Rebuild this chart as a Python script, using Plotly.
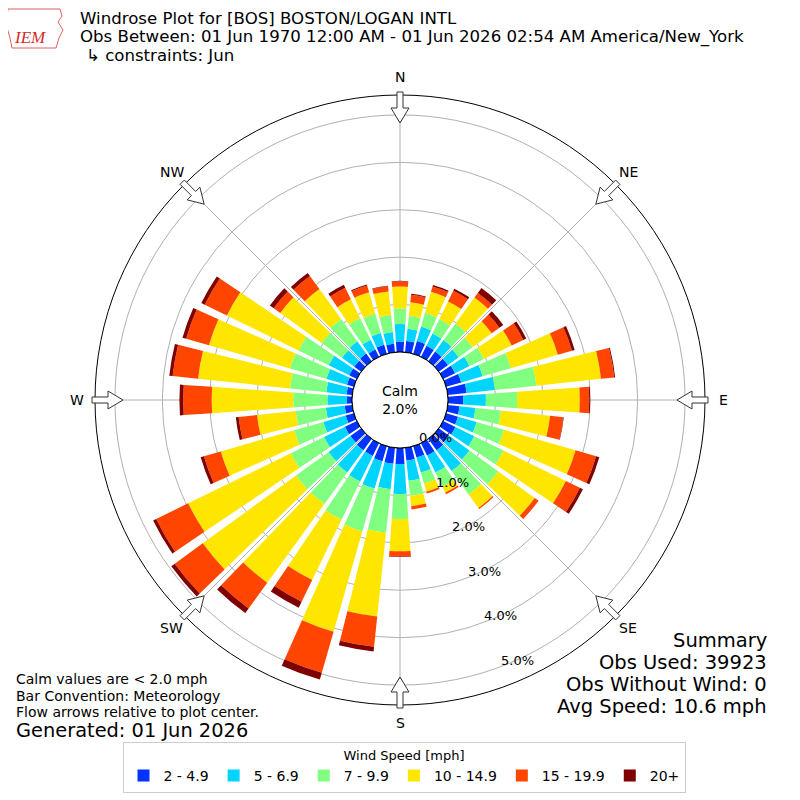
import numpy as np
import plotly.graph_objects as go

# direction (deg, met convention) of each bar
directions = list(range(0, 360, 10))

speed_bins = ["2 - 4.9", "5 - 6.9", "7 - 9.9", "10 - 14.9", "15 - 19.9", "20+"]
bin_colors = ["#0033ff", "#00d4ff", "#80ff80", "#ffe600", "#ff4500", "#800000"]

# frequency (%) per direction for each speed bin
freq_2_5 = [.22, .24, .28, .26, .25, .24, .28, .33, .40, .32, .25, .26, .29, .27, .30, .29, .25, .27,
            .34, .34, .33, .30, .30, .28, .28, .18, .16, .11, .12, .15, .18, .18, .20, .17, .20, .18]
freq_5_7 = [.37, .26, .32, .29, .30, .28, .34, .47, .60, .48, .34, .41, .44, .53, .54, .40, .33, .43,
            .63, .54, .60, .60, .58, .57, .49, .49, .40, .41, .43, .45, .48, .32, .32, .23, .26, .25]
freq_7_10 = [.33, .27, .30, .33, .43, .36, .34, .62, .88, .66, .54, .60, .69, .75, .61, .33, .24, .32,
             .53, .92, .94, .90, .82, .85, .78, .64, .64, .72, .77, .80, .71, .53, .58, .51, .42, .36]
freq_10_15 = [.46, .29, .46, .42, .68, .50, .65, 1.03, 1.37, 1.32, 1.04, 1.57, 1.46, .95, .35, .14, .18, .22,
              .68, 1.78, 2.20, 1.41, 2.05, 2.43, 2.41, 1.61, .82, 1.72, 1.95, 1.78, 1.68, 1.08, .78, .44, .47, .50]
freq_15_20 = [.11, .16, .12, .25, .12, .20, .27, .31, .28, .20, .28, .45, .33, .10, .03, .04, .04, .07,
              .11, .64, .90, .51, .67, .73, .75, .37, .39, .60, .54, .50, .52, .17, .34, .27, .15, .11]
freq_20p = [.01, .02, .03, .05, .13, .10, .07, .06, .02, .02, .01, .07, .07, .00, .00, .00, .00, .00,
            .01, .10, .15, .14, .12, .09, .07, .07, .06, .08, .07, .08, .08, .10, .08, .07, .02, .01]

series = [freq_2_5, freq_5_7, freq_7_10, freq_10_15, freq_15_20, freq_20p]

compass_vals = [0, 45, 90, 135, 180, 225, 270, 315]
compass_text = ["N", "NE", "E", "SE", "S", "SW", "W", "NW"]
radial_ticks = [0, 1, 2, 3, 4, 5]

calm_pct = 2.0
font = "DejaVu Sans"

# page geometry (pixels, as seen in the browser; the page body adds an 8px offset)
OFF = 8
W = H = 800 - OFF
CX, CY, R_OUT, R_HOLE = 400, 400, 305, 48
RMAX = 5.42
LABEL_DIR = 160  # compass direction along which the % labels sit
R_COMPASS = 323  # radius of the N/NE/... labels


def px(x):
    return (x - OFF) / W


def py(y):
    return 1 - (y - OFF) / H


def arrow_path(deg):
    """outlined block arrow pointing to the plot center, in paper coords"""
    a = np.deg2rad(deg)
    ux, uy = np.sin(a), -np.cos(a)
    vx, vy = np.cos(a), np.sin(a)
    pts = [(308, -3), (292, -3), (292, -9), (277, 0), (292, 9), (292, 3), (308, 3)]
    out = []
    for i, (u, v) in enumerate(pts):
        x = CX + u * ux + v * vx
        y = CY + u * uy + v * vy
        out.append(("M" if i == 0 else "L") + f"{px(x):.5f},{py(y):.5f}")
    return " ".join(out) + " Z"


def logo_path():
    pts = [(8, 9), (60, 9), (62, 16), (58, 22), (63, 30), (59, 38), (56, 48), (12, 48), (10, 38), (6, 24)]
    return " ".join(("M" if i == 0 else "L") + f"{px(x):.5f},{py(y):.5f}"
                    for i, (x, y) in enumerate(pts)) + " Z"


fig = go.Figure()

for name, color, vals in zip(speed_bins, bin_colors, series):
    fig.add_trace(go.Barpolar(
        r=vals, theta=directions, width=8, name=name,
        marker=dict(color=color, line=dict(width=0)),
        hovertemplate="%{theta}°: %{r:.2f}%<extra>" + name + "</extra>",
    ))

# black outline of the calm circle
ring = np.linspace(0, 360, 181)
fig.add_trace(go.Scatterpolar(
    r=np.zeros_like(ring), theta=ring, mode="lines",
    line=dict(color="black", width=1), showlegend=False, hoverinfo="skip",
))

shapes = [dict(type="path", path=arrow_path(d), xref="paper", yref="paper",
               fillcolor="white", line=dict(color="#333333", width=1))
          for d in compass_vals]
shapes.append(dict(type="path", path=logo_path(), xref="paper", yref="paper",
                   line=dict(color="#e06060", width=1)))

fig.update_layout(
    width=W, height=H,
    margin=dict(l=0, r=0, t=0, b=0),
    paper_bgcolor="white",
    font=dict(family=font, size=14, color="black"),
    polar=dict(
        domain=dict(x=[px(CX - R_OUT), px(CX + R_OUT)], y=[py(CY + R_OUT), py(CY - R_OUT)]),
        hole=R_HOLE / R_OUT,
        bgcolor="white",
        barmode="stack",
        angularaxis=dict(
            rotation=90, direction="clockwise",
            tickmode="array", tickvals=compass_vals, showticklabels=False, ticks="",
            showline=True, linecolor="black", linewidth=1,
            gridcolor="#b0b0b0", gridwidth=1, layer="above traces",
        ),
        radialaxis=dict(
            range=[0, RMAX], tickmode="array", tickvals=radial_ticks,
            showticklabels=False, showline=False, ticks="",
            gridcolor="#b0b0b0", gridwidth=1, layer="above traces",
        ),
    ),
    legend=dict(
        orientation="h", x=0.5, xanchor="center", y=py(742), yanchor="top",
        bordercolor="#cccccc", borderwidth=1,
        title=dict(text="Wind Speed [mph]", side="top center", font=dict(size=13)),
        font=dict(size=14), traceorder="normal",
    ),
    shapes=shapes,
)


def text(s, x, y, size, xanchor="left", yanchor="middle", **kw):
    fig.add_annotation(text=s, x=px(x), y=py(y), xref="paper", yref="paper",
                       showarrow=False, xanchor=xanchor, yanchor=yanchor,
                       font=dict(size=size, **kw))


# compass labels
for d, lab in zip(compass_vals, compass_text):
    a = np.deg2rad(d)
    text(lab, CX + R_COMPASS * np.sin(a), CY - R_COMPASS * np.cos(a), 14, xanchor="center")

# radial % labels along the LABEL_DIR spoke
a = np.deg2rad(LABEL_DIR)
for v in radial_ticks:
    r = R_HOLE + v * (R_OUT - R_HOLE) / RMAX
    text("%.1f%%" % v, CX + r * np.sin(a) + 1, CY - r * np.cos(a) + 2, 13, yanchor="bottom")

# header
text("Windrose Plot for [BOS] BOSTON/LOGAN INTL", 78, 19, 16.6)
text("Obs Between: 01 Jun 1970 12:00 AM - 01 Jun 2026 02:54 AM America/New_York", 78, 37, 16.6)
text("\u21b3 constraints: Jun", 84, 55, 16.6)
text("<i>IEM</i>", 30, 38, 17, xanchor="center", family="Liberation Serif", color="#d42a2a")

# centre
text("Calm<br>%.1f%%" % calm_pct, CX, CY, 14, xanchor="center")

# footer left
text("Calm values are < 2.0 mph", 14, 679, 14)
text("Bar Convention: Meteorology", 14, 696, 14)
text("Flow arrows relative to plot center.", 14, 712, 14)
text("Generated: 01 Jun 2026", 14, 730, 19.4)

# footer right
text("Summary", 769, 640, 19.5, xanchor="right")
text("Obs Used: 39923", 769, 662, 19.5, xanchor="right")
text("Obs Without Wind: 0", 769, 684, 19.5, xanchor="right")
text("Avg Speed: 10.6 mph", 769, 706, 19.5, xanchor="right")

fig.write_html("out.html")
